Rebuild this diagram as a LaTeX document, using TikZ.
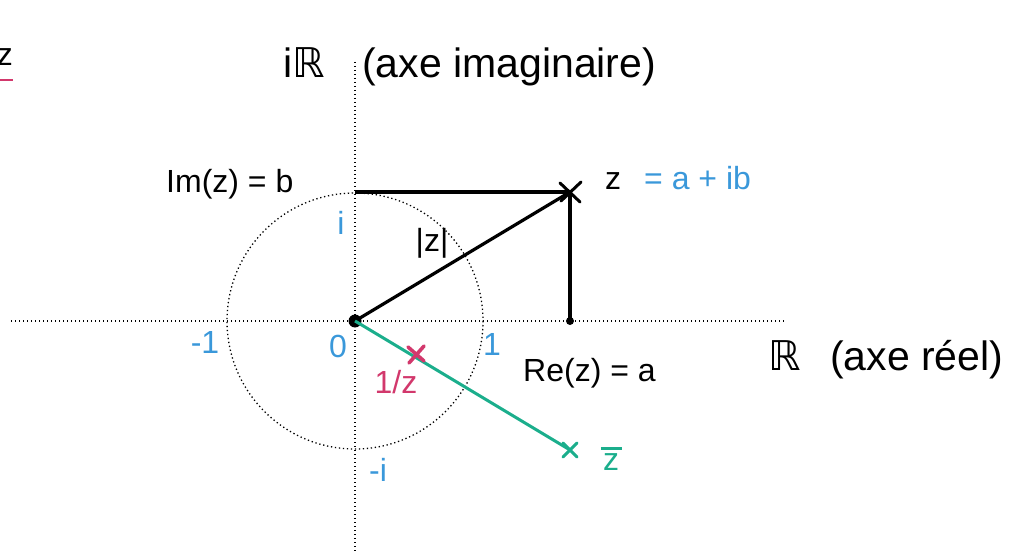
\documentclass[tikz,border=0pt]{standalone}
\usepackage{fontspec}
\setmainfont{Liberation Sans}
\newfontfamily\dv{DejaVu Sans}
\usetikzlibrary{calc}
\definecolor{cblue}{HTML}{3A98DA}
\definecolor{cpink}{HTML}{D2386C}
\definecolor{cgreen}{HTML}{1BAE8C}
\tikzset{
  axis/.style={line width=1.3pt, dash pattern=on 1.3pt off 2.7pt},
  seg/.style={line width=3.2pt, black},
  lbl/.style={font=\fontsize{32}{36}\selectfont, inner sep=0pt},
  big/.style={font=\fontsize{41}{45}\selectfont, inner sep=0pt},
  crossmark/.style={line width=3pt, line cap=round},
}
\begin{document}
\begin{tikzpicture}[x=1pt,y=-1pt]
\useasboundingbox (0,0) rectangle (1019,553);
\clip (0,0) rectangle (1019,553);
% points
\coordinate (O) at (355,321);
\coordinate (Z) at (570,192);
\coordinate (B) at (355,192);
\coordinate (A) at (570,321);
\coordinate (ZB) at (570,450);
\coordinate (IZ) at (416,354);
\coordinate (xl) at (11,321);
\coordinate (xr) at (785,321);
\coordinate (yt) at (355,62);
\coordinate (yb) at (355,553);
% axes and unit circle
\draw[axis] (xl) -- (xr);
\draw[axis] (yt) -- (yb);
\draw[axis] (O) circle[radius=128];
% z construction
\draw[seg] (B) -- (Z);
\draw[seg] (Z) -- (A);
\draw[seg] (O) -- (Z);
\fill (O) circle[radius=6.5];
\fill (A) circle[radius=4];
% conjugate
\draw[cgreen, line width=3pt] (O) -- (ZB);
% crosses
\draw[crossmark] ($(Z)+(-10,-9)$) -- ($(Z)+(10,10)$) ($(Z)+(-9,9)$) -- ($(Z)+(11,-10)$);
\draw[crossmark, cgreen] ($(ZB)+(-7,-7)$) -- ($(ZB)+(7,7)$) ($(ZB)+(-7,7)$) -- ($(ZB)+(7,-7)$);
\draw[crossmark, cpink, line width=3.6pt] ($(IZ)+(-8,-7)$) -- ($(IZ)+(8,7)$) ($(IZ)+(-7,9)$) -- ($(IZ)+(8,-8)$);
% labels
\node[big, anchor=base west] (tiR) at (283,78) {i{\dv ℝ}};
\node[big, anchor=base west] (tim) at (362,78) {(axe imaginaire)};
\node[big, anchor=base west] (tR) at (768,370) {{\dv ℝ}};
\node[big, anchor=base west] (tre) at (830,370) {(axe réel)};
\node[lbl, anchor=base west] (lim) at (166,193) {Im(z) = b};
\node[lbl, anchor=base west] (lz) at (605,190) {z};
\node[lbl, anchor=base west, text=cblue] (lzab) at (644,190) {= a + ib};
\node[lbl, anchor=base west] (lre) at (523,381) {Re(z) = a};
\node[lbl] (lmod) at (432,243) {|z|};
\node[lbl, text=cblue] (li) at (341,223) {i};
\node[lbl, text=cblue] (lm1) at (205,342) {-1};
\node[lbl, text=cblue] (l0) at (338,346) {0};
\node[lbl, text=cblue] (l1) at (492,344) {1};
\node[lbl, text=cblue] (lmi) at (378,470) {-i};
\node[lbl, text=cpink] (linv) at (396,382) {1/z};
\node[lbl, text=cgreen] (lzb) at (611,462) {z};
\draw[cgreen, line width=3pt] ($(lzb.north west)+(-2,-5)$) -- ($(lzb.north east)+(3,-5)$);
% cut-off heading at top left
\node[lbl, anchor=base east] (lcut) at (13,66) {z};
\draw[cpink, line width=2.8pt] (0,80) -- (13,80);
\end{tikzpicture}
\end{document}
